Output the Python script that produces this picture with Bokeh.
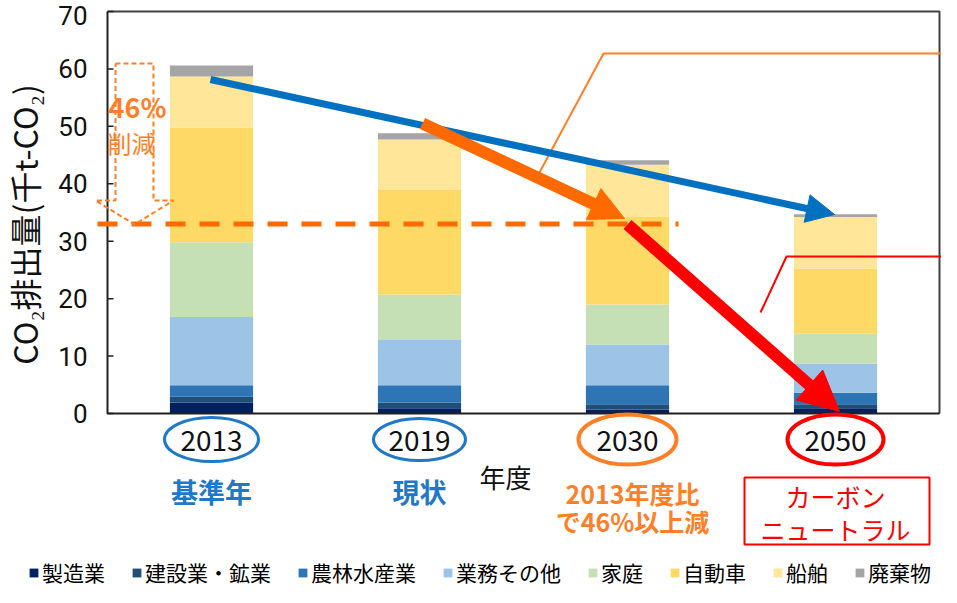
from math import pi
from bokeh.plotting import figure
from bokeh.models import (ColumnDataSource, Arrow, NormalHead, Legend, LegendItem, Range1d)
from bokeh.core.properties import value
from bokeh.embed import file_html
from bokeh.resources import INLINE

# ---------------- data ----------------
years = ["2013", "2019", "2030", "2050"]
sectors = ["製造業", "建設業・鉱業", "農林水産業", "業務その他", "家庭", "自動車", "船舶", "廃棄物"]
manufacturing = [1.9, 0.9, 0.7, 0.9]
construction = [1.0, 1.0, 0.9, 0.7]
agriculture = [2.0, 3.0, 3.3, 2.0]
commercial = [11.9, 7.9, 7.1, 5.1]
household = [13.0, 7.9, 7.0, 5.2]
automobile = [20.0, 18.2, 15.2, 11.3]
shipping = [8.9, 8.8, 9.1, 9.0]
waste = [1.9, 1.1, 0.8, 0.5]
target_2030 = 33.0
y_ticks = [0, 10, 20, 30, 40, 50, 60, 70]
year_notes = ["基準年", "現状"]

colors = ["#002060", "#1F4E79", "#2E75B6", "#9DC3E6", "#C5E0B4", "#FFD966", "#FFE699", "#A5A5A5"]
FONT = value("Noto Sans CJK JP")
TICK_FONT = value("Roboto")
BLUE = "#1F78C8"
ORANGE = "#FF7F27"
ORANGE_ARROW = "#FF6A00"
RED = "#FF0000"


# helpers: reference-picture pixel -> data (x: 208 px / category, y: 402 px / 70)
def dx(px):
    return (px - 115) / 208.0


def dy(py):
    return (421 - py) / (402.0 / 70.0)


W, H = 941, 587
p = figure(width=W, height=H, min_border=0,
           x_range=Range1d(dx(8), dx(8 + W)), y_range=Range1d(dy(8 + H), dy(8)),
           x_axis_location=None, y_axis_location=None,
           output_backend="svg", toolbar_location=None)
p.outline_line_color = None
p.xgrid.visible = False
p.ygrid.visible = False
p.background_fill_color = "white"
p.border_fill_color = "white"

xpos = [i + 0.5 for i in range(len(years))]
src = ColumnDataSource(dict(x=xpos, **dict(zip(sectors, [manufacturing, construction, agriculture,
                                                          commercial, household, automobile,
                                                          shipping, waste]))))

rs = p.vbar_stack(stackers=sectors, x="x", width=0.4, color=colors, line_color=None, source=src)

# plot box and axis
x_lo, x_hi = 0, len(years)
y_lo, y_hi = y_ticks[0], y_ticks[-1]
p.line([x_lo, x_hi, x_hi], [y_hi, y_hi, y_lo], line_color="#404040", line_width=2)
p.line([x_lo, x_lo, x_hi], [y_hi, y_lo, y_lo], line_color="#202020", line_width=2)
p.segment(x0=[x_lo] * len(y_ticks), y0=y_ticks, x1=[x_lo + 6 / 208.0] * len(y_ticks), y1=y_ticks,
          line_color="#202020", line_width=1.5)
p.text(x=[dx(95)] * len(y_ticks), y=y_ticks, text=[str(v) for v in y_ticks],
       y_offset=[0] * (len(y_ticks) - 1) + [4],
       text_align="right", text_baseline="middle", text_font=TICK_FONT,
       text_font_size="26px", text_color="#111111")

# y axis title
p.text(x=[dx(31)], y=[dy(232)], text=["CO₂排出量(千t-CO₂)"], angle=pi / 2,
       text_align="center", text_baseline="middle", text_font=FONT,
       text_font_size="32px", text_color="#111111")

# dashed target line
p.line([dx(105), dx(686)], [target_2030, target_2030], line_color=ORANGE_ARROW,
       line_width=5, line_dash="20 14")

# dashed "46% 削減" arrow outline
arr_x = [dx(123), dx(161), dx(161), dx(181), dx(142), dx(103), dx(123), dx(123)]
arr_y = [dy(71), dy(71), dy(208), dy(208), dy(232), dy(208), dy(208), dy(71)]
p.line(arr_x, arr_y, line_color=ORANGE, line_width=2, line_dash="5 3")
p.text(x=[dx(145)], y=[dy(114)], text=["46%"], text_align="center", text_baseline="middle",
       text_font=FONT, text_font_size="27px", text_font_style="bold", text_color=ORANGE)
p.text(x=[dx(139)], y=[dy(150)], text=["削減"], text_align="center", text_baseline="middle",
       text_font=FONT, text_font_size="24px", text_color=ORANGE)

# callout lines
p.line([dx(547), dx(611), dx(960)], [dy(180), dy(61), dy(61)], line_color=ORANGE, line_width=2)
p.line([dx(768), dx(794), dx(960)], [dy(320), dy(264), dy(264)], line_color=RED, line_width=2)

# trend arrows
p.add_layout(Arrow(end=NormalHead(size=28, fill_color="#0070C0", line_color="#0070C0"),
                   x_start=dx(218), y_start=dy(87), x_end=dx(842), y_end=dy(222),
                   line_color="#0070C0", line_width=7))
p.add_layout(Arrow(end=NormalHead(size=34, fill_color=ORANGE_ARROW, line_color=ORANGE_ARROW),
                   x_start=dx(430), y_start=dy(131), x_end=dx(632), y_end=dy(226),
                   line_color=ORANGE_ARROW, line_width=12))
p.add_layout(Arrow(end=NormalHead(size=40, fill_color=RED, line_color=RED),
                   x_start=dx(635), y_start=dy(232), x_end=dx(847), y_end=dy(419),
                   line_color=RED, line_width=12))

# year labels with ellipses
p.ellipse(x=xpos, y=[dy(447)] * 4, width=[94, 92, 98, 96], height=[44, 42, 50, 50],
          width_units="screen", height_units="screen", fill_color=None,
          line_color=[BLUE, BLUE, ORANGE, RED], line_width=[3, 3, 4, 4])
p.text(x=xpos, y=[dy(448)] * 4, text=years, text_align="center", text_baseline="middle",
       text_font=FONT, text_font_size="28px", text_color="#111111")

p.text(x=xpos[:2], y=[dy(499)] * 2, text=year_notes, text_align="center", text_baseline="middle",
       text_font=FONT, text_font_size="27px", text_font_style="bold", text_color=BLUE)

p.text(x=[dx(513)], y=[dy(484)], text=["年度"], text_align="center", text_baseline="middle",
       text_font=FONT, text_font_size="26px", text_color="#111111")

p.text(x=[dx(640)] * 2, y=[dy(500), dy(528)], text=["2013年度比", "で46%以上減"],
       text_align="center", text_baseline="middle",
       text_font=FONT, text_font_size="25px", text_font_style="bold", text_color=ORANGE)

p.quad(left=[dx(752)], right=[dx(937)], top=[dy(485)], bottom=[dy(552)],
       fill_color=None, line_color=RED, line_width=2)
p.text(x=[dx(843)] * 2, y=[dy(503), dy(536)], text=["カーボン", "ニュートラル"],
       text_align="center", text_baseline="middle",
       text_font=FONT, text_font_size="25px", text_color=RED)

# legend
legend = Legend(items=[LegendItem(label=s, renderers=[r]) for s, r in zip(sectors, rs)],
                orientation="horizontal", location=(28, 0),
                glyph_width=11, glyph_height=11, label_standoff=3, spacing=26,
                padding=0, margin=0, border_line_color=None, background_fill_alpha=0,
                label_text_font="Noto Sans CJK JP", label_text_font_size="21px",
                label_text_color="black")
p.add_layout(legend)

open("out.html", "w").write(file_html(p, INLINE))
